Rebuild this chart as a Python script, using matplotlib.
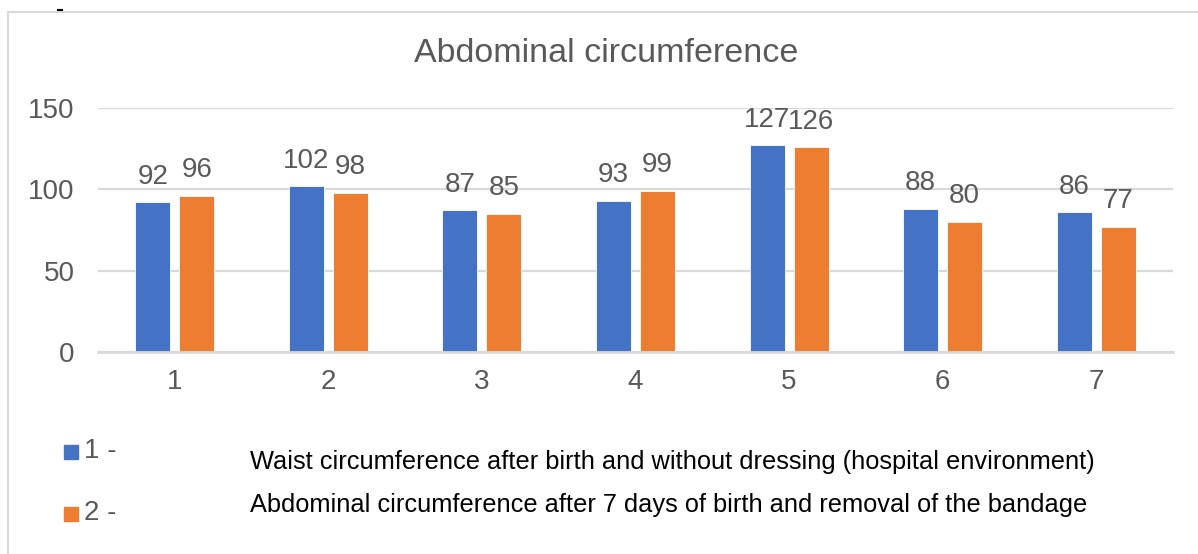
import numpy as np
import matplotlib.pyplot as plt
from matplotlib.lines import Line2D
from matplotlib.patches import Rectangle

plt.rcParams["font.family"] = ["Liberation Sans", "DejaVu Sans"]

# ── Dados ────────────────────────────────────────────────────────────────────
categorias = ["1", "2", "3", "4", "5", "6", "7"]
serie1 = [92, 102, 87, 93, 127, 88, 86]
serie2 = [96, 98, 85, 99, 126, 80, 77]
legenda_curta = ["1 -", "2 -"]
legenda_texto = [
    "Waist circumference after birth and without dressing (hospital environment)",
    "Abdominal circumference after 7 days of birth and removal of the bandage",
]
titulo = "Abdominal circumference"

AZUL = "#4472C4"
LARANJA = "#ED7D31"
CINZA_TXT = "#595959"
CINZA_LINHA = "#d9d9d9"

W, H = 1198, 554
fig = plt.figure(figsize=(W / 100, H / 100), dpi=100)

# eixo em coordenadas de pixel
x0, x1, ytop, ybot = 98, 1173, 108, 352
ax = fig.add_axes([x0 / W, 1 - ybot / H, (x1 - x0) / W, (ybot - ytop) / H])

x = np.arange(len(categorias))
largura = 0.228
desloc = 0.143
b1 = ax.bar(x - desloc, serie1, largura, color=AZUL, edgecolor="white", linewidth=0.6, zorder=3, clip_on=False)
b2 = ax.bar(x + desloc, serie2, largura, color=LARANJA, edgecolor="white", linewidth=0.6, zorder=3, clip_on=False)

for bars, vals in [(b1, serie1), (b2, serie2)]:
    for bar, v in zip(bars, vals):
        ax.annotate(f"{v}", (bar.get_x() + bar.get_width() / 2, v),
                    xytext=(0, 9), textcoords="offset points",
                    ha="center", va="bottom", fontsize=20, color=CINZA_TXT)

ax.set_xlim(-0.5, len(categorias) - 0.5)
ax.set_ylim(0, 150)
ax.set_yticks([0, 50, 100, 150])
ax.set_xticks(x)
ax.set_xticklabels(categorias)
ax.tick_params(axis="both", length=0, labelsize=20, labelcolor=CINZA_TXT)
ax.tick_params(axis="y", pad=17)
ax.tick_params(axis="x", pad=12)
ax.grid(axis="y", color=CINZA_LINHA, linewidth=1.6, zorder=0)
for s in ["top", "right", "left"]:
    ax.spines[s].set_visible(False)
ax.spines["bottom"].set_color(CINZA_LINHA)
ax.spines["bottom"].set_linewidth(2)
ax.spines["bottom"].set_zorder(4)

fig.text(606 / W, 1 - 53 / H, titulo, ha="center", va="center", fontsize=24.5, color=CINZA_TXT)

# legenda manual
for i, (cor, curto, texto) in enumerate(zip([AZUL, LARANJA], legenda_curta, legenda_texto)):
    yq = 452 + i * 62
    fig.patches.append(Rectangle((64 / W, 1 - (yq + 7) / H), 14 / W, 14 / H,
                                 transform=fig.transFigure, color=cor))
    fig.text(84 / W, 1 - (yq - 1) / H, curto, ha="left", va="center", fontsize=20, color=CINZA_TXT)
    yt = 462 + i * 43
    fig.text(250 / W, 1 - yt / H, texto, ha="left", va="center", fontsize=18.3, color="black")

# moldura do gráfico
fig.add_artist(Line2D([8 / W, 8 / W], [0, 1 - 12 / H], transform=fig.transFigure, color=CINZA_LINHA, lw=1.5))
fig.add_artist(Line2D([8 / W, 1], [1 - 12 / H, 1 - 12 / H], transform=fig.transFigure, color=CINZA_LINHA, lw=1.5))
fig.add_artist(Line2D([58 / W, 62 / W], [1 - 10 / H, 1 - 10 / H], transform=fig.transFigure, color="black", lw=1.5))

fig.savefig("out.png", dpi=100)
